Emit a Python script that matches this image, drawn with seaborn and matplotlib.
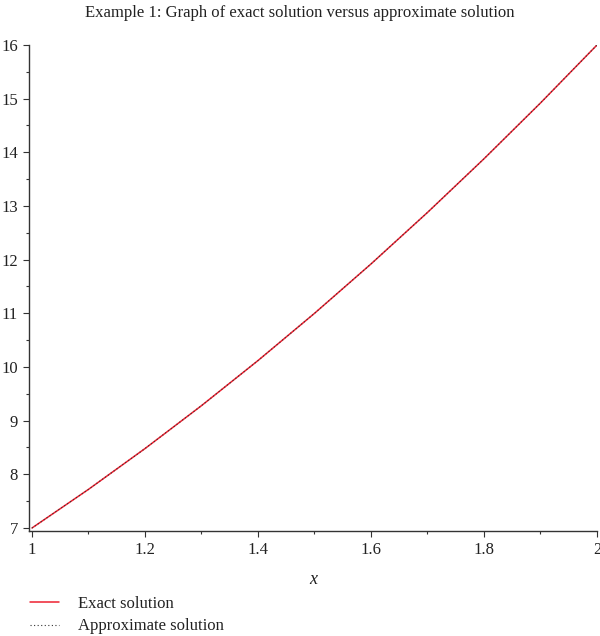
import numpy as np
import pandas as pd
import matplotlib
matplotlib.use('Agg')
import matplotlib.pyplot as plt
import seaborn as sns

# values
x_vals = [1.0, 1.1, 1.2, 1.3, 1.4, 1.5, 1.6, 1.7, 1.8, 1.9, 2.0]
exact_vals = [7.0, 7.72, 8.48, 9.28, 10.12, 11.0, 11.92, 12.88, 13.88, 14.92, 16.0]
approx_vals = [7.0, 7.72, 8.48, 9.28, 10.12, 11.0, 11.92, 12.88, 13.88, 14.92, 16.0]
x_ticks = [1, 1.2, 1.4, 1.6, 1.8, 2]
x_ticklabels = ['1', '1.2', '1.4', '1.6', '1.8', '2']
y_ticks = [7, 8, 9, 10, 11, 12, 13, 14, 15, 16]

sns.set_theme(style='white')
plt.rcParams['font.family'] = ['Liberation Serif', 'DejaVu Serif']

df = pd.DataFrame({'x': x_vals, 'exact': exact_vals, 'approx': approx_vals})

fig = plt.figure(figsize=(6.0, 6.36), dpi=100)
ax = fig.add_axes([29/600, 105/636, 568/600, 486/636])

sns.lineplot(data=df, x='x', y='exact', ax=ax, color='#ee2030', linewidth=1.1,
             label='Exact solution')
sns.lineplot(data=df, x='x', y='approx', ax=ax, color='#333333', linewidth=0.8,
             linestyle=(0, (1, 2.2)), label='Approximate solution')

ax.set_xlim(0.9947, 2.0)
ax.set_ylim(6.944, 16.0)
ax.set_xticks(x_ticks)
ax.set_xticklabels(x_ticklabels)
ax.set_yticks(y_ticks)
ax.set_xticks(np.arange(1.1, 2.0, 0.2), minor=True)
ax.set_yticks(np.arange(7.5, 16, 1.0), minor=True)

for side in ['top', 'right']:
    ax.spines[side].set_visible(False)
for side in ['left', 'bottom']:
    ax.spines[side].set_color('#333333')
    ax.spines[side].set_linewidth(1.0)

ax.tick_params(which='major', direction='out', length=4, width=0.8, color='#333333',
               labelsize=12, labelcolor='#222222', pad=4, left=True, bottom=True)
ax.tick_params(which='minor', direction='out', length=2.5, width=0.8, color='#333333',
               left=True, bottom=True)

ax.set_ylabel('')
ax.set_xlabel('x', fontsize=13, style='italic', color='#222222', labelpad=9)

fig.text(0.5, 1 - 13/636, 'Example 1: Graph of exact solution versus approximate solution',
         ha='center', va='center', fontsize=12, color='#222222')

handles, labels = ax.get_legend_handles_labels()
ax.get_legend().remove()
leg = fig.legend(handles, labels, loc='upper left', bbox_to_anchor=(30/600, 1 - 596/636),
                 frameon=False, fontsize=12, handlelength=1.75, handletextpad=1.15,
                 labelspacing=0.38, borderpad=0, borderaxespad=0)
for t in leg.get_texts():
    t.set_color('#222222')

fig.savefig('out.png', dpi=100)
plt.close()
